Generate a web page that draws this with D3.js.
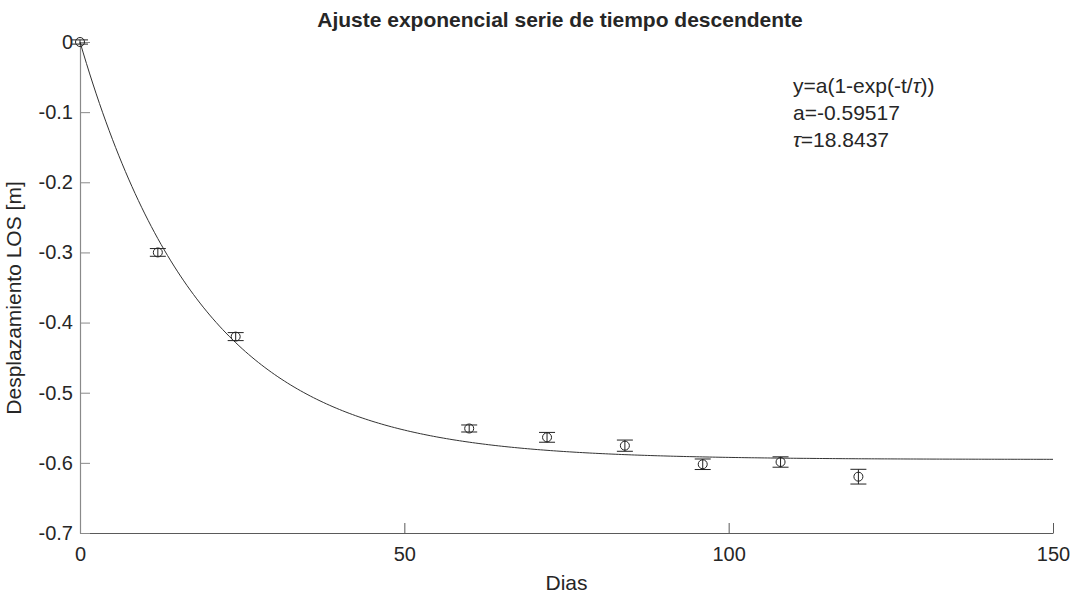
<!DOCTYPE html>
<html>
<head>
<meta charset="utf-8">
<script src="https://cdn.jsdelivr.net/npm/d3@7"></script>
<style>
  body { margin: 0; background: #fff; }
  text { font-family: "Liberation Sans", Arial, sans-serif; fill: #262626; }
</style>
</head>
<body>
<div id="chart"></div>
<script>
// observed points (days, LOS displacement in m) and their error half-widths
const dias = [0, 12, 24, 60, 72, 84, 96, 108, 120];
const desplazamiento = [0, -0.300, -0.420, -0.551, -0.5636, -0.5755, -0.602, -0.5988, -0.6197];
const errores = [0.003, 0.0055, 0.0057, 0.005, 0.007, 0.008, 0.0075, 0.0074, 0.0105];

// fit parameters shown in the annotation
const a = -0.59517;
const tau = 18.8437;

const xTicks = [0, 50, 100, 150];
const yTicks = [0, -0.1, -0.2, -0.3, -0.4, -0.5, -0.6, -0.7];

const width = 1074;
const height = 596;
const margin = { top: 42, right: 21, bottom: 63, left: 80 };

const svg = d3.select("#chart")
  .append("svg")
  .attr("width", width)
  .attr("height", height);

const x = d3.scaleLinear().domain([0, 150]).range([margin.left, width - margin.right]);
const y = d3.scaleLinear().domain([-0.7, 0]).range([height - margin.bottom, margin.top]);

// axes (MATLAB style, ticks pointing inward, box off)
const xAxis = svg.append("g")
  .attr("transform", `translate(0,${height - margin.bottom})`)
  .call(d3.axisBottom(x).tickValues(xTicks).tickSizeInner(-10).tickSizeOuter(0).tickPadding(14).tickFormat(d3.format("d")));
xAxis.select(".domain").attr("stroke", "#5a5a5a").attr("stroke-width", 1.2);
xAxis.selectAll(".tick line").attr("stroke", "#5a5a5a");
xAxis.selectAll(".tick text").style("font-size", "20px").attr("fill", "#262626");

const yAxis = svg.append("g")
  .attr("transform", `translate(${margin.left},0)`)
  .call(d3.axisLeft(y).tickValues(yTicks).tickSizeInner(-10).tickSizeOuter(0).tickPadding(7)
    .tickFormat(d => d === 0 ? "0" : d.toFixed(1)));
yAxis.select(".domain").attr("stroke", "#8a8a8a").attr("stroke-width", 1.2);
yAxis.selectAll(".tick line").attr("stroke", "#8a8a8a");
yAxis.selectAll(".tick text").style("font-size", "20px").attr("fill", "#262626");

// fitted curve
const tFit = d3.range(0, 150.01, 0.5);
const line = d3.line()
  .x(t => x(t))
  .y(t => y(a * (1 - Math.exp(-t / tau))));

svg.append("path")
  .datum(tFit)
  .attr("d", line)
  .attr("fill", "none")
  .attr("stroke", "#333")
  .attr("stroke-width", 1);

// error bars
const pts = dias.map((d, i) => ({ t: d, v: desplazamiento[i], e: errores[i] }));
const eb = svg.append("g").attr("stroke", "#222").attr("stroke-width", 1).attr("fill", "none");
eb.selectAll(".vbar").data(pts).join("line")
  .attr("x1", d => x(d.t)).attr("x2", d => x(d.t))
  .attr("y1", d => y(d.v - d.e)).attr("y2", d => y(d.v + d.e));
eb.selectAll(".cap-top").data(pts).join("line").attr("class", "cap-top")
  .attr("x1", d => x(d.t) - 8).attr("x2", d => x(d.t) + 8)
  .attr("y1", d => y(d.v + d.e)).attr("y2", d => y(d.v + d.e));
eb.selectAll(".cap-bot").data(pts).join("line").attr("class", "cap-bot")
  .attr("x1", d => x(d.t) - 8).attr("x2", d => x(d.t) + 8)
  .attr("y1", d => y(d.v - d.e)).attr("y2", d => y(d.v - d.e));
eb.selectAll("circle").data(pts).join("circle")
  .attr("cx", d => x(d.t)).attr("cy", d => y(d.v)).attr("r", 4.5);

// title
svg.append("text")
  .attr("x", 560)
  .attr("y", 27)
  .attr("text-anchor", "middle")
  .style("font-size", "21px")
  .style("font-weight", "bold")
  .attr("fill", "#000")
  .text("Ajuste exponencial serie de tiempo descendente");

// axis labels
svg.append("text")
  .attr("x", (margin.left + width - margin.right) / 2)
  .attr("y", 590)
  .attr("text-anchor", "middle")
  .style("font-size", "21px")
  .text("Dias");

svg.append("text")
  .attr("transform", `translate(21,298) rotate(-90)`)
  .attr("text-anchor", "middle")
  .style("font-size", "21px")
  .text("Desplazamiento LOS [m]");

// annotation
const note = svg.append("text").attr("x", 793).style("font-size", "21px").attr("fill", "#000");
const l1 = note.append("tspan").attr("x", 793).attr("y", 93);
l1.append("tspan").text("y=a(1-exp(-t/");
l1.append("tspan").style("font-style", "italic").text("τ");
l1.append("tspan").text("))");
note.append("tspan").attr("x", 793).attr("y", 120).text("a=" + a);
const l3 = note.append("tspan").attr("x", 793).attr("y", 147);
l3.append("tspan").style("font-style", "italic").text("τ");
l3.append("tspan").text("=" + tau);
</script>
</body>
</html>
